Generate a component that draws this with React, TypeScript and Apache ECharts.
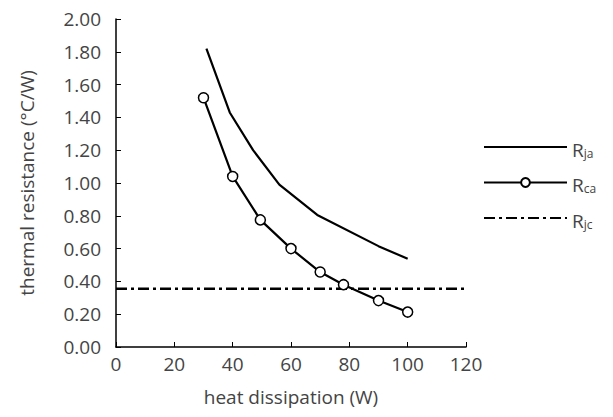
import React, { useEffect, useRef } from "react";
import * as echarts from "echarts";

const rjaX = [31, 39, 47, 56, 69, 90, 100];
const rjaY = [1.82, 1.43, 1.2, 0.99, 0.805, 0.615, 0.538];
const rcaX = [30, 40, 49.5, 60, 70, 78, 90, 100];
const rcaY = [1.52, 1.04, 0.775, 0.6, 0.457, 0.38, 0.283, 0.213];
const rjcX = [0, 120];
const rjcY = [0.355, 0.355];
const seriesNames = ["Rja", "Rca", "Rjc"];
const subscripts: Record<string, string> = { Rja: "ja", Rca: "ca", Rjc: "jc" };

const FONT = "'Open Sans', sans-serif";
const TXT = "#444";

export default function App() {
  const ref = useRef<HTMLDivElement>(null);
  useEffect(() => {
    if (!ref.current) return;
    document.body.style.margin = "0";
    const chart = echarts.init(ref.current, undefined, { renderer: "svg" });
    const zip = (xs: number[], ys: number[]) => xs.map((x, i) => [x, ys[i]]);
    chart.setOption({
      animation: false,
      textStyle: { fontFamily: FONT, color: TXT },
      grid: { left: 116, right: 147, top: 19, bottom: 70, containLabel: false },
      xAxis: {
        type: "value",
        min: 0,
        max: 120,
        interval: 20,
        name: "heat dissipation (W)",
        nameLocation: "middle",
        nameGap: 40,
        nameTextStyle: { fontSize: 19, color: TXT, fontFamily: FONT },
        axisLine: { lineStyle: { color: "#000", width: 1.5 } },
        axisTick: { inside: true, length: 5, lineStyle: { color: "#000", width: 1 } },
        axisLabel: { fontSize: 19, color: TXT, fontFamily: FONT, margin: 7 },
        splitLine: { show: false },
      },
      yAxis: {
        type: "value",
        min: 0,
        max: 2,
        interval: 0.2,
        name: "thermal resistance (°C/W)",
        nameLocation: "middle",
        nameGap: 80,
        nameTextStyle: { fontSize: 19, color: TXT, fontFamily: FONT },
        axisLine: { show: true, lineStyle: { color: "#000", width: 1.5 } },
        axisTick: { show: true, inside: true, length: 5, lineStyle: { color: "#000", width: 1 } },
        axisLabel: {
          fontSize: 19,
          color: TXT,
          fontFamily: FONT,
          margin: 15,
          formatter: (v: number) => v.toFixed(2),
        },
        splitLine: { show: false },
      },
      legend: {
        orient: "vertical",
        left: 483,
        top: 140,
        padding: 0,
        itemWidth: 83,
        itemHeight: 11,
        itemGap: 16.5,
        data: [
          { name: "Rja", itemStyle: { opacity: 0 } },
          { name: "Rca" },
          { name: "Rjc", itemStyle: { opacity: 0 } },
        ],
        formatter: (n: string) => `{r|R}{s|${subscripts[n]}}`,
        textStyle: {
          color: TXT,
          fontFamily: FONT,
          padding: [0, 0, 0, 0],
          rich: {
            r: { fontSize: 19, color: TXT, fontFamily: FONT, verticalAlign: "bottom", lineHeight: 24 },
            s: { fontSize: 12, color: TXT, fontFamily: FONT, verticalAlign: "bottom", lineHeight: 20 },
          },
        },
      },
      series: [
        {
          name: seriesNames[0],
          type: "line",
          data: zip(rjaX, rjaY),
          symbol: "none",
          lineStyle: { color: "#000", width: 2.2 },
          itemStyle: { color: "#000" },
        },
        {
          name: seriesNames[1],
          type: "line",
          data: zip(rcaX, rcaY),
          symbol: "circle",
          symbolSize: 10,
          lineStyle: { color: "#000", width: 2.2 },
          itemStyle: { color: "#fff", borderColor: "#000", borderWidth: 1.5 },
        },
        {
          name: seriesNames[2],
          type: "line",
          data: zip(rjcX, rjcY),
          symbol: "none",
          lineStyle: { color: "#000", width: 2.6, type: [11, 4, 3, 4] },
          itemStyle: { color: "#000" },
        },
      ],
    });
    return () => chart.dispose();
  }, []);
  return <div ref={ref} style={{ width: 613, height: 417 }} />;
}
